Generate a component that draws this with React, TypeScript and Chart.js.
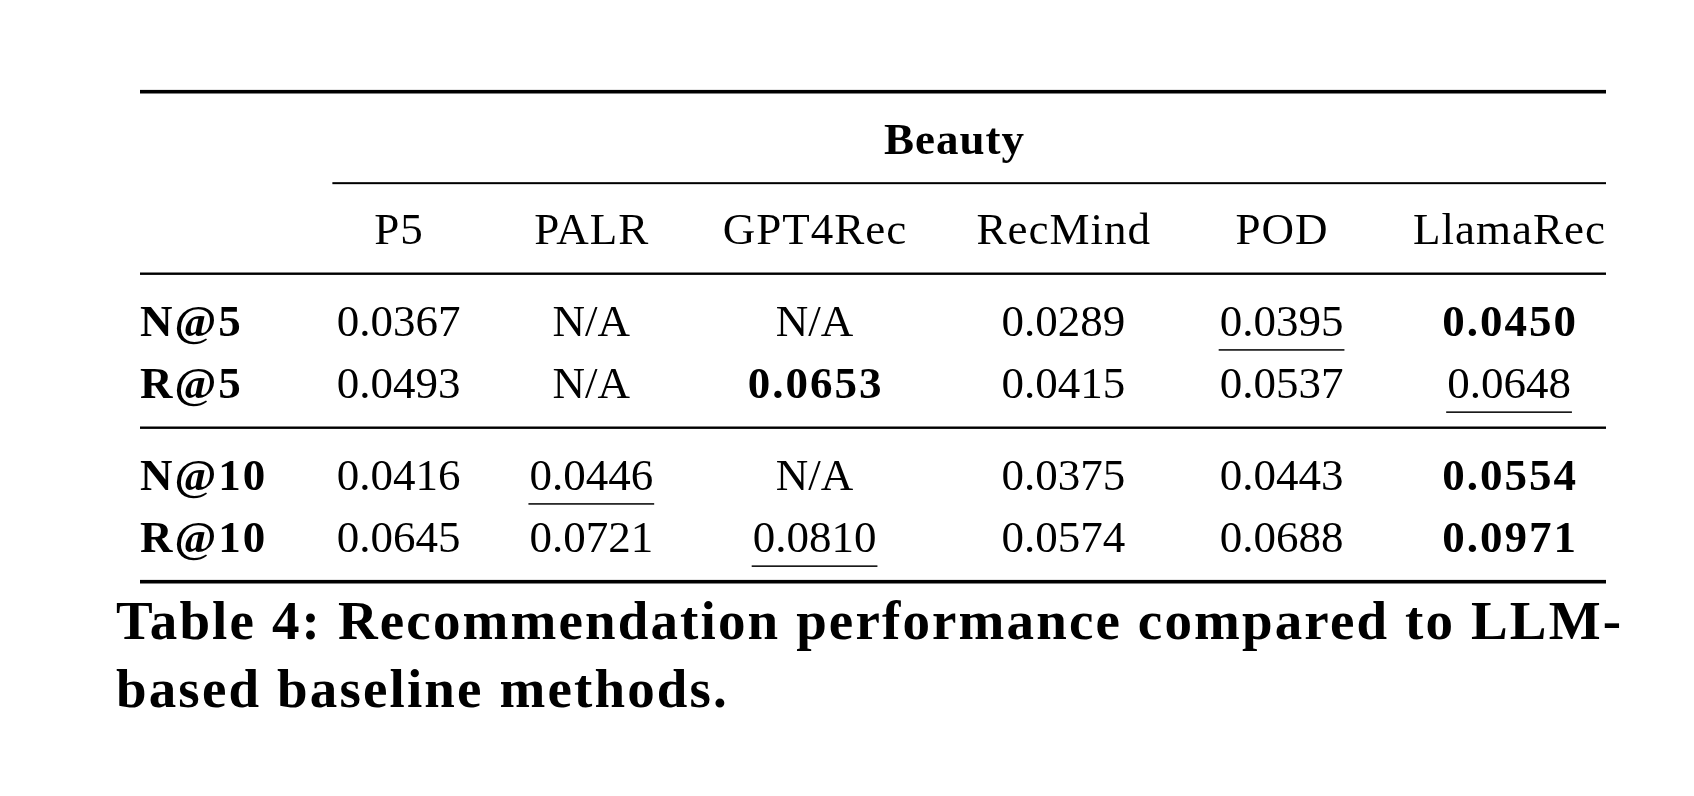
import React, { useEffect, useRef } from "react";
import { Chart, registerables } from "chart.js";

Chart.register(...registerables);

// ---------- data ----------
const DATASET_TITLE = "Beauty";
const METHODS = ["P5", "PALR", "GPT4Rec", "RecMind", "POD", "LlamaRec"];
const METRICS = ["N@5", "R@5", "N@10", "R@10"];
const N_AT_5: (number | null)[] = [0.0367, null, null, 0.0289, 0.0395, 0.045];
const R_AT_5: (number | null)[] = [0.0493, null, 0.0653, 0.0415, 0.0537, 0.0648];
const N_AT_10: (number | null)[] = [0.0416, 0.0446, null, 0.0375, 0.0443, 0.0554];
const R_AT_10: (number | null)[] = [0.0645, 0.0721, 0.081, 0.0574, 0.0688, 0.0971];
const ROW_VALUES = [N_AT_5, R_AT_5, N_AT_10, R_AT_10];
const ROW_GROUPS = [2, 2]; // rows per block, blocks separated by a midrule
const NA_TEXT = "N/A";
const CAPTION = [
  "Table 4: Recommendation performance compared to LLM-",
  "based baseline methods.",
];

// ---------- layout / style ----------
const W = 1694;
const H = 796;
const FAMILY = '"Liberation Serif", "Times New Roman", serif';
const SIZE = 45;
const TABLE_LEFT = 140;
const TABLE_RIGHT = 1606;
const TABLE_TOP = 91.7;
const TABLE_BOTTOM = 581.7;
const SEP = 34;
const INK = "#000000";
const BOLD_TRACK = 2; // px letter spacing for bold table text
const HEAD_TRACK = 1; // px letter spacing for header words
const CAPTION_SIZE = 55;
const CAPTION_WIDTH = 1505;

const fmt = (v: number | null) => (v == null ? NA_TEXT : v.toFixed(4));

function rankOf(vals: (number | null)[], j: number): number {
  const v = vals[j];
  if (v == null) return -1;
  const sorted = vals.filter((x): x is number => x != null).sort((a, b) => b - a);
  return sorted.indexOf(v);
}

export default function App() {
  const ref = useRef<HTMLCanvasElement>(null);

  useEffect(() => {
    const canvas = ref.current;
    if (!canvas) return;
    const reg = `${SIZE}px ${FAMILY}`;
    const bold = `bold ${SIZE}px ${FAMILY}`;
    const mctx = document.createElement("canvas").getContext("2d")! as any;
    const tw = (t: string, f: string, track = 0) => {
      mctx.font = f;
      mctx.letterSpacing = `${track}px`;
      const w = mctx.measureText(t).width;
      mctx.letterSpacing = "0px";
      return w;
    };

    // column widths like a LaTeX tabular (@{} l c c c c c c @{})
    const colW: number[] = [Math.max(...METRICS.map((t) => tw(t, bold, BOLD_TRACK)))];
    METHODS.forEach((name, j) => {
      let mx = tw(name, reg, HEAD_TRACK);
      ROW_VALUES.forEach((vals) => {
        const isBold = rankOf(vals, j) === 0;
        mx = Math.max(mx, tw(fmt(vals[j]), isBold ? bold : reg, isBold ? BOLD_TRACK : 0));
      });
      colW.push(mx);
    });
    const starts: number[] = [];
    const centers: number[] = [];
    let cur = 0;
    colW.forEach((cw, i) => {
      if (i > 0) cur += SEP;
      starts.push(cur);
      centers.push(cur + cw / 2);
      cur += cw;
      if (i < colW.length - 1) cur += SEP;
    });
    const total = cur;

    // vertical model in row units (booktabs spacing)
    const RULE_GAP = 0.475;
    const yTop = 0;
    const yTitle = yTop + 1;
    const yCmid = yTitle + 0.47;
    const yHeader = yCmid + 0.98;
    const midRules: number[] = [];
    const rowY: number[] = [];
    let yy = yHeader;
    ROW_GROUPS.forEach((n) => {
      yy += RULE_GAP;
      midRules.push(yy);
      for (let k = 0; k < n; k++) {
        yy += 1;
        rowY.push(yy);
      }
    });
    const yBottom = yy + RULE_GAP;

    const datasets = ROW_VALUES.map((vals, r) => ({
      label: METRICS[r],
      data: vals.map((_, j) => ({ x: centers[j + 1], y: rowY[r] })),
      pointRadius: 0,
      showLine: false,
    }));

    const tablePlugin = {
      id: "tableText",
      afterDatasetsDraw(chart: any) {
        const ctx: any = chart.ctx;
        const xs = chart.scales.x;
        const ys = chart.scales.y;
        const X = (v: number) => xs.getPixelForValue(v);
        const Y = (v: number) => ys.getPixelForValue(v);
        const left = X(0);
        const right = X(total);
        ctx.save();
        ctx.fillStyle = INK;
        const rule = (x0: number, x1: number, yc: number, t: number) =>
          ctx.fillRect(x0, yc - t / 2, x1 - x0, t);
        // draw text; center alignment done manually so trailing tracking is ignored
        const text = (t: string, font: string, track: number, x: number, y: number, align: string) => {
          ctx.font = font;
          ctx.letterSpacing = `${track}px`;
          ctx.textAlign = "left";
          const w = ctx.measureText(t).width - track;
          const x0 = align === "center" ? x - w / 2 : x;
          ctx.fillText(t, x0, y);
          ctx.letterSpacing = "0px";
          return { x0, w };
        };

        // rules
        rule(left, right, Y(yTop), 3.6);
        rule(X(starts[1]) - 4, right, Y(yCmid), 2.0);
        midRules.forEach((m) => rule(left, right, Y(m), 2.4));
        rule(left, right, Y(yBottom), 3.6);

        ctx.textBaseline = "alphabetic";
        // group title
        text(DATASET_TITLE, bold, 1, X((starts[1] - SEP + total) / 2), Y(yTitle), "center");
        // column headers
        METHODS.forEach((name, j) =>
          text(name, reg, HEAD_TRACK, X(centers[j + 1]), Y(yHeader), "center")
        );
        // row labels
        METRICS.forEach((name, r) => text(name, bold, BOLD_TRACK, left, Y(rowY[r]), "left"));
        // cells from dataset elements
        chart.data.datasets.forEach((_: any, r: number) => {
          const meta = chart.getDatasetMeta(r);
          const vals = ROW_VALUES[r];
          meta.data.forEach((el: any, j: number) => {
            const rank = rankOf(vals, j);
            const isBold = rank === 0;
            const res = text(fmt(vals[j]), isBold ? bold : reg, isBold ? BOLD_TRACK : 0, el.x, el.y, "center");
            if (rank === 1) rule(res.x0 - 1, res.x0 + res.w + 1, el.y + 14, 1.5);
          });
        });
        // caption
        const capFont = `bold ${CAPTION_SIZE}px ${FAMILY}`;
        ctx.font = capFont;
        const cw = ctx.measureText(CAPTION[0]).width;
        const track = Math.max(0, (CAPTION_WIDTH - cw) / (CAPTION[0].length - 1));
        const capX = left - 24;
        const base = Y(yBottom);
        text(CAPTION[0], capFont, track, capX, base + 57.7, "left");
        text(CAPTION[1], capFont, track, capX, base + 125, "left");
        ctx.restore();
      },
    };

    const chart = new Chart(canvas, {
      type: "scatter",
      data: { datasets } as any,
      options: {
        responsive: false,
        animation: false,
        events: [],
        layout: {
          padding: {
            left: TABLE_LEFT,
            right: W - TABLE_RIGHT,
            top: TABLE_TOP,
            bottom: H - TABLE_BOTTOM,
          },
        },
        scales: {
          x: { type: "linear", min: 0, max: total, display: false },
          y: { type: "linear", min: 0, max: yBottom, reverse: true, display: false },
        },
        plugins: { legend: { display: false }, tooltip: { enabled: false } },
      } as any,
      plugins: [tablePlugin],
    });
    return () => chart.destroy();
  }, []);

  return (
    <div style={{ position: "absolute", left: 0, top: 0, width: W, height: H, background: "#fff" }}>
      <canvas ref={ref} width={W} height={H} style={{ display: "block", width: W, height: H }} />
    </div>
  );
}
